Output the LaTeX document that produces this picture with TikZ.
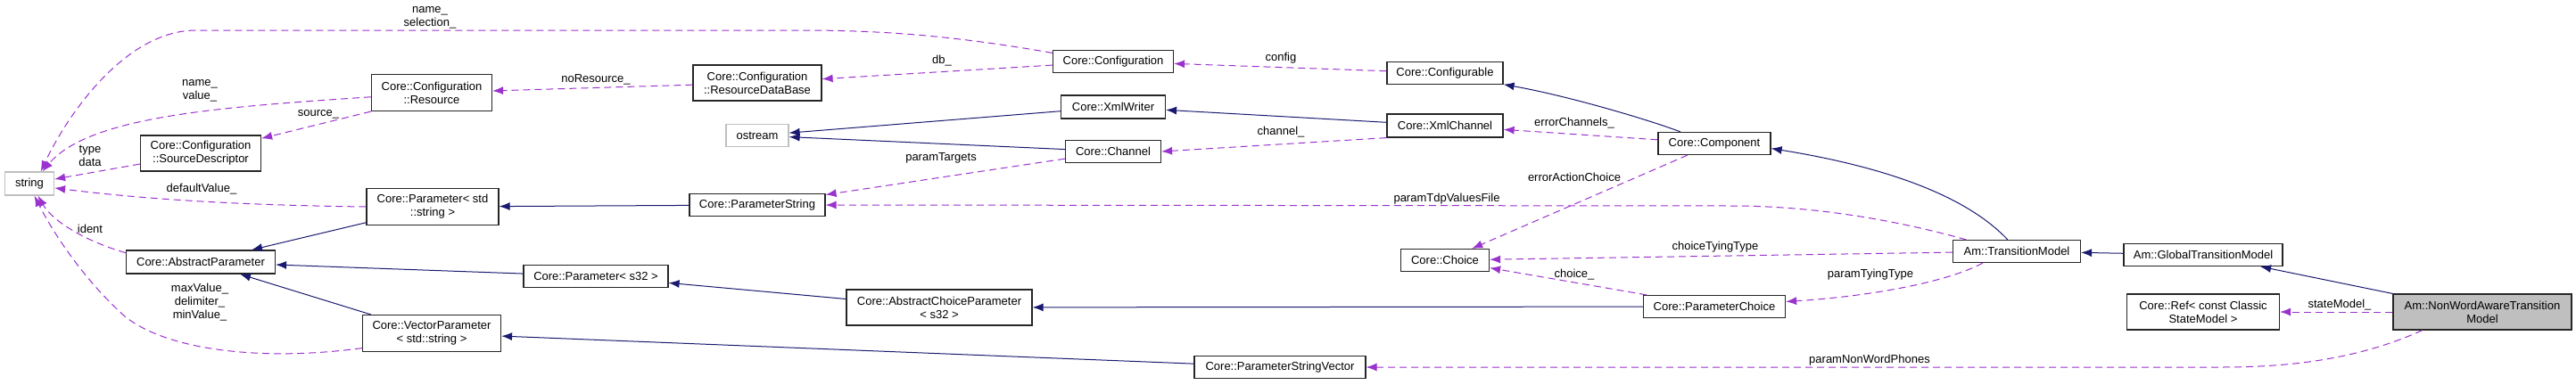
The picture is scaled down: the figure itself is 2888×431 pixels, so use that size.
\documentclass[tikz,border=0pt]{standalone}
\usepackage{fontspec}
\setmainfont{Liberation Sans}
\usetikzlibrary{arrows.meta}

\definecolor{navy}{HTML}{191970}
\definecolor{orchid}{HTML}{9A32CD}
\definecolor{boxgray}{HTML}{BFBFBF}

\tikzset{
  boxsz/.style 2 args={minimum width=#1pt, minimum height=#2pt},
  cls/.style={draw=black!85, line width=1.2pt, fill=white, inner sep=0pt, align=center, font=\fontsize{13}{15}\selectfont},
  ext/.style={cls, draw=boxgray},
  focus/.style={cls, fill=boxgray},
  lbl/.style={inner sep=0pt, align=center, font=\fontsize{13}{15}\selectfont},
  inherit/.style={draw=navy, line width=1pt, -{Latex[length=12pt,width=9pt]}},
  usage/.style={draw=orchid, line width=1pt, dash pattern=on 8pt off 5pt, -{Latex[length=12pt,width=9pt]}},
}

\begin{document}
\begin{tikzpicture}[x=1pt, y=-1pt]
	\useasboundingbox[fill=white] (0,0) rectangle (2888,431);

	\node[ext, boxsz={55}{26}] (str) at (33,206) {string};
	\node[cls, boxsz={135}{41}] (res) at (484,104) {Core::Configuration\\::Resource};
	\node[cls, boxsz={135}{40}] (srcdesc) at (225,172) {Core::Configuration\\::SourceDescriptor};
	\node[cls, boxsz={148}{41}] (paramstd) at (485,232) {Core::Parameter< std\\::string >};
	\node[cls, boxsz={167}{26}] (absparam) at (225,294) {Core::AbstractParameter};
	\node[cls, boxsz={162}{25}] (params32) at (668,310) {Core::Parameter< s32 >};
	\node[cls, boxsz={155}{41}] (vecparam) at (484,374) {Core::VectorParameter\\< std::string >};
	\node[cls, boxsz={135}{25}] (conf) at (1248,69) {Core::Configuration};
	\node[cls, boxsz={144}{40}] (resdb) at (849,93) {Core::Configuration\\::ResourceDataBase};
	\node[cls, boxsz={117}{26}] (xmlwriter) at (1248,120) {Core::XmlWriter};
	\node[ext, boxsz={70}{25}] (ostream) at (849,152) {ostream};
	\node[cls, boxsz={107}{25}] (channel) at (1248,170) {Core::Channel};
	\node[cls, boxsz={152}{25}] (paramstring) at (849,230) {Core::ParameterString};
	\node[cls, boxsz={208}{40}] (abschoice) at (1053,345) {Core::AbstractChoiceParameter\\< s32 >};
	\node[cls, boxsz={192}{25}] (paramstrvec) at (1435,412) {Core::ParameterStringVector};
	\node[cls, boxsz={130}{25}] (configurable) at (1620,82) {Core::Configurable};
	\node[cls, boxsz={130}{26}] (xmlchannel) at (1620,141) {Core::XmlChannel};
	\node[cls, boxsz={126}{25}] (component) at (1922,161) {Core::Component};
	\node[cls, boxsz={99}{25}] (choice) at (1620,292) {Core::Choice};
	\node[cls, boxsz={159}{25}] (paramchoice) at (1922,344) {Core::ParameterChoice};
	\node[cls, boxsz={143}{25}] (transmodel) at (2261,282) {Am::TransitionModel};
	\node[cls, boxsz={178}{25}] (globaltm) at (2470,286) {Am::GlobalTransitionModel};
	\node[cls, boxsz={171}{40}] (ref) at (2470,350) {Core::Ref< const Classic\\StateModel >};
	\node[focus, boxsz={200}{40}] (nonword) at (2783,350) {Am::NonWordAwareTransition\\Model};

	% base classes
	\draw[inherit] (component.161) .. controls (1850,135) and (1760,108) .. (configurable.-11);
	\draw[inherit] (xmlchannel) -- (xmlwriter);
	\draw[inherit] (xmlwriter) -- (ostream);
	\draw[inherit] (channel) -- (ostream);
	\draw[inherit] (paramstring) -- (paramstd);
	\draw[inherit] (paramstd) -- (absparam);
	\draw[inherit] (params32) -- (absparam);
	\draw[inherit] (vecparam) -- (absparam);
	\draw[inherit] (abschoice) -- (params32);
	\draw[inherit] (paramchoice) -- (abschoice);
	\draw[inherit] (paramstrvec) -- (vecparam);
	\draw[inherit] (transmodel.128) .. controls (2200,215) and (2100,185) .. (component.-5);
	\draw[inherit] (globaltm) -- (transmodel);
	\draw[inherit] (nonword) -- (globaltm);

	% members
	\draw[usage] (conf.172) .. controls (1080,42) and (1000,34) .. (900,34) -- (220,34) .. controls (140,34) and (75,130) .. (str.47);
	\draw[usage] (conf) -- (resdb);
	\draw[usage] (configurable) -- (conf);
	\draw[usage] (resdb) -- (res);
	\draw[usage] (res.184) .. controls (250,120) and (100,130) .. (str.43);
	\draw[usage] (res.south west) -- (srcdesc);
	\draw[usage] (srcdesc) -- (str);
	\draw[usage] (paramstd.west) .. controls (250,230) and (150,222) .. (str.-10);
	\draw[usage] (absparam.173) .. controls (100,272) and (60,250) .. (str.-55);
	\draw[usage] (vecparam.192) .. controls (300,405) and (190,395) .. (140,355) .. controls (95,315) and (60,262) .. (str.-68);
	\draw[usage] (xmlchannel.south west) -- (channel.east);
	\draw[usage] (component) -- (xmlchannel);
	\draw[usage] (channel) -- (paramstring);
	\draw[usage] (transmodel.167) .. controls (2100,240) and (2010,231) .. (1941,231) -- (paramstring.east);
	\draw[usage] (component) -- (choice);
	\draw[usage] (transmodel) -- (choice);
	\draw[usage] (paramchoice) -- (choice);
	\draw[usage] (transmodel.199) .. controls (2180,318) and (2090,333) .. (paramchoice.4);
	\draw[usage] (nonword) -- (ref);
	\draw[usage] (nonword.197) .. controls (2640,405) and (2560,412) .. (2490,412) -- (paramstrvec.east);

	\node[lbl] (l-selection) at (482,20) {name\_\\selection\_};
	\node[lbl] (l-db) at (1056,68) {db\_};
	\node[lbl] (l-config) at (1436,65) {config};
	\node[lbl] (l-nores) at (668,89) {noResource\_};
	\node[lbl] (l-namevalue) at (224,102) {name\_\\value\_};
	\node[lbl] (l-source) at (357,128) {source\_};
	\node[lbl] (l-typedata) at (101,175) {type\\data};
	\node[lbl] (l-default) at (226,212) {defaultValue\_};
	\node[lbl] (l-ident) at (101,257) {ident};
	\node[lbl] (l-maxvalue) at (224,339) {maxValue\_\\delimiter\_\\minValue\_};
	\node[lbl] (l-channel) at (1436,148) {channel\_};
	\node[lbl] (l-errchannels) at (1765,138) {errorChannels\_};
	\node[lbl] (l-targets) at (1055,177) {paramTargets};
	\node[lbl] (l-tdpfile) at (1622,223) {paramTdpValuesFile};
	\node[lbl] (l-erraction) at (1765,199) {errorActionChoice};
	\node[lbl] (l-choicetying) at (1923,277) {choiceTyingType};
	\node[lbl] (l-choice) at (1765,308) {choice\_};
	\node[lbl] (l-paramtying) at (2097,308) {paramTyingType};
	\node[lbl] (l-nonwordph) at (2096,404) {paramNonWordPhones};
	\node[lbl] (l-statemodel) at (2623,342) {stateModel\_};
\end{tikzpicture}
\end{document}
